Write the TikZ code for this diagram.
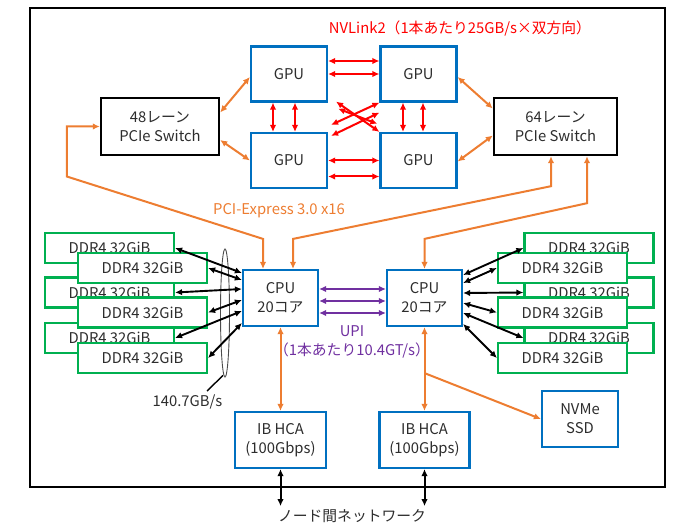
\documentclass[tikz,border=0pt]{standalone}
\usepackage{fontspec}
\setmainfont{Noto Sans CJK JP}
\usepackage{tikz}
\usetikzlibrary{arrows.meta,positioning,shapes.geometric,calc}
\definecolor{boxblue}{RGB}{0,112,192}
\definecolor{ddrgreen}{RGB}{0,176,80}
\definecolor{pcieorange}{RGB}{237,125,49}
\definecolor{nvred}{RGB}{255,0,0}
\definecolor{upipurple}{RGB}{112,48,160}
\definecolor{textgray}{RGB}{45,45,45}

\begin{document}
\begin{tikzpicture}[x=1pt,y=-1pt,
  font=\fontsize{14.8}{19}\selectfont,
  every node/.style={text=textgray},
  gpubox/.style={draw=boxblue,line width=2.2pt,fill=white,minimum width=76pt,minimum height=55pt,align=center},
  swbox/.style={draw=black,line width=2.4pt,fill=white,minimum height=57pt,align=center},
  ddrbox/.style={draw=ddrgreen,line width=2.2pt,fill=white,minimum width=129pt,minimum height=30pt},
  nvl/.style={{Latex[length=7pt,width=6.5pt]}-{Latex[length=7pt,width=6.5pt]},nvred,line width=2pt},
  pcie/.style={{Latex[length=7pt,width=6.5pt]}-{Latex[length=7pt,width=6.5pt]},pcieorange,line width=2pt},
  pcieone/.style={-{Latex[length=7pt,width=6.5pt]},pcieorange,line width=2pt},
  upi/.style={{Latex[length=7pt,width=6.5pt]}-{Latex[length=7pt,width=6.5pt]},upipurple,line width=2pt},
  memarrow/.style={{Latex[length=7pt,width=6.5pt]}-{Latex[length=7pt,width=6.5pt]},black,line width=1.9pt},
  netarrow/.style={{Latex[length=7pt,width=6.5pt]}-{Latex[length=7pt,width=6.5pt]},black,line width=2pt}
]
\useasboundingbox (0,0) rectangle (674,526);
\draw[line width=2.6pt] (30,8) rectangle (665,487);

\node[text=nvred] (nvlabel) at (460,28) {NVLink2（1本あたり25GB/s×双方向）};
\node[gpubox] (gpuA) at (289,74) {GPU};
\node[gpubox] (gpuB) at (418.5,74) {GPU};
\node[gpubox] (gpuC) at (289,160.5) {GPU};
\node[gpubox] (gpuD) at (418.5,160.5) {GPU};
\node[swbox,minimum width=118pt] (swL) at (160,126.5) {48レーン\\PCIe Switch};
\node[swbox,minimum width=123pt] (swR) at (555.5,126.5) {64レーン\\PCIe Switch};

\node[gpubox,minimum width=75pt,minimum height=56pt] (cpuL) at (280.5,298) {CPU\\20コア};
\node[gpubox,minimum width=75pt,minimum height=56pt] (cpuR) at (424.5,298) {CPU\\20コア};
\node[text=pcieorange] (pcielabel) at (279,211) {PCI-Express 3.0 x16};
\node[text=upipurple,align=center] (upilabel) at (352,342) {UPI\\（1本あたり10.4GT/s）};

\node[ddrbox] (ddrL1) at (109.5,248) {DDR4 32GiB};
\node[ddrbox] (ddrL3) at (109.5,292.5) {DDR4 32GiB};
\node[ddrbox] (ddrL5) at (109.5,338) {DDR4 32GiB};
\node[ddrbox] (ddrL2) at (142.5,268) {DDR4 32GiB};
\node[ddrbox] (ddrL4) at (142.5,312.5) {DDR4 32GiB};
\node[ddrbox] (ddrL6) at (142.5,358) {DDR4 32GiB};
\node[ddrbox] (ddrR1) at (589,248) {DDR4 32GiB};
\node[ddrbox] (ddrR3) at (589,292.5) {DDR4 32GiB};
\node[ddrbox] (ddrR5) at (589,338) {DDR4 32GiB};
\node[ddrbox] (ddrR2) at (562.5,268) {DDR4 32GiB};
\node[ddrbox] (ddrR4) at (562.5,312.5) {DDR4 32GiB};
\node[ddrbox] (ddrR6) at (562.5,358) {DDR4 32GiB};

\node[ellipse,draw=black!70,line width=0.9pt,minimum width=9pt,minimum height=128pt,inner sep=0pt] (bw) at (225,313) {};
\node (bwlabel) at (187.5,402) {140.7GB/s};
\coordinate (bwend) at (207,391);

\node[gpubox,minimum width=91pt,minimum height=56pt] (ibL) at (280.5,440) {IB HCA\\(100Gbps)};
\node[gpubox,minimum width=90pt,minimum height=56pt] (ibR) at (424.5,440) {IB HCA\\(100Gbps)};
\node[gpubox,minimum width=76pt,minimum height=56pt] (ssd) at (580,419) {NVMe\\SSD};
\node (net) at (352,516) {ノード間ネットワーク};
\coordinate (netL) at ($(ibL.south)+(0,37)$);
\coordinate (netR) at ($(ibR.south)+(0,37)$);

\draw[nvl] ([yshift=13pt]gpuA.east) -- ([yshift=13pt]gpuB.west);
\draw[nvl] (gpuA.east) -- (gpuB.west);
\draw[nvl] (gpuC.east) -- (gpuD.west);
\draw[nvl] ([yshift=-16pt]gpuC.east) -- ([yshift=-16pt]gpuD.west);
\draw[nvl] ([xshift=-16pt]gpuA.south) -- ([xshift=-16pt]gpuC.north);
\draw[nvl] ([xshift=6pt]gpuA.south) -- ([xshift=6pt]gpuC.north);
\draw[nvl] ([xshift=-15.5pt]gpuB.south) -- ([xshift=-15.5pt]gpuD.north);
\draw[nvl] ([xshift=4.5pt]gpuB.south) -- ([xshift=4.5pt]gpuD.north);
\draw[nvl] ($(gpuA.south east)+(8,-1)$) -- (gpuD.north west);
\draw[nvl] ($(gpuA.south east)+(10,6)$) -- ($(gpuD.north west)+(-2,-8)$);
\draw[nvl] ($(gpuC.north east)+(3,-7)$) -- (gpuB.south west);
\draw[nvl] ($(gpuC.north east)+(3,4)$) -- ($(gpuB.south west)+(0,10)$);

\draw[pcie] ([yshift=-3pt]gpuA.west) -- ([yshift=14pt]swL.east);
\draw[pcie] (gpuC.west) -- ([yshift=-13.5pt]swL.east);
\draw[pcie] ([yshift=-3pt]gpuB.east) -- ([yshift=18pt]swR.west);
\draw[pcie] ([yshift=-1pt]gpuD.east) -- ([yshift=-9pt]swR.west);
\draw[pcie] (swL.west) -- ++(-33,0) -- ++(0,50) -- ($(cpuL.north)+(-17.5,-30)$) -- ([xshift=-17.5pt]cpuL.north);
\draw[pcie] ([xshift=-4.5pt]swR.south) -- ++(0,30) -- ($(cpuL.north)+(12.5,-30)$) -- ([xshift=12.5pt]cpuL.north);
\draw[pcie] ([xshift=31.5pt]swR.south) -- ++(0,47) -- ($(cpuR.north)+(0,-30)$) -- (cpuR.north);

\draw[upi] ([yshift=9pt]cpuL.east) -- ([yshift=9pt]cpuR.west);
\draw[upi] ([yshift=-3pt]cpuL.east) -- ([yshift=-3pt]cpuR.west);
\draw[upi] ([yshift=-15pt]cpuL.east) -- ([yshift=-15pt]cpuR.west);

\draw[memarrow] (ddrL1.east) -- ([yshift=25pt]cpuL.west);
\draw[memarrow] (ddrL2.east) -- ([yshift=18pt]cpuL.west);
\draw[memarrow] (ddrL3.east) -- ([yshift=9pt]cpuL.west);
\draw[memarrow] (ddrL4.east) -- ([yshift=-2pt]cpuL.west);
\draw[memarrow] (ddrL5.east) -- ([yshift=-13pt]cpuL.west);
\draw[memarrow] (ddrL6.east) -- ([yshift=-25pt]cpuL.west);
\draw[memarrow] (ddrR1.west) -- ([yshift=23pt]cpuR.east);
\draw[memarrow] (ddrR2.west) -- ([yshift=15pt]cpuR.east);
\draw[memarrow] (ddrR3.west) -- ([yshift=5pt]cpuR.east);
\draw[memarrow] (ddrR4.west) -- ([yshift=-5pt]cpuR.east);
\draw[memarrow] (ddrR5.west) -- ([yshift=-15pt]cpuR.east);
\draw[memarrow] (ddrR6.west) -- ([yshift=-26pt]cpuR.east);
\draw[line width=1.4pt] ($(bw.south)+(-2,-2)$) -- (bwend);

\draw[pcie] (cpuL.south) -- (ibL.north);
\draw[pcie] (cpuR.south) -- (ibR.north);
\draw[pcieone] ($(cpuR.south)+(0,46)$) -- (ssd.west);
\draw[netarrow] (ibL.south) -- (netL);
\draw[netarrow] (ibR.south) -- (netR);
\end{tikzpicture}
\end{document}
